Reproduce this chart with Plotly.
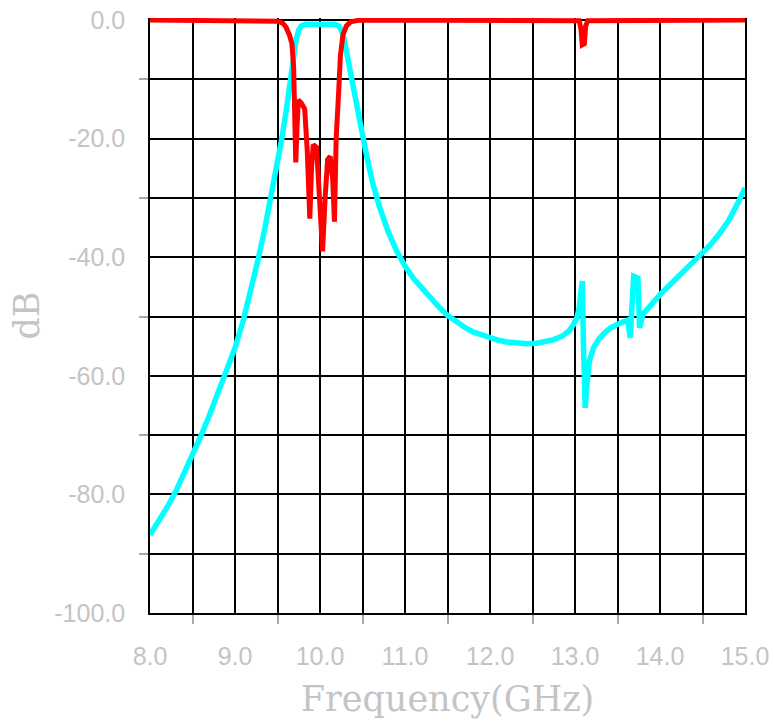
import plotly.graph_objects as go

# S21 (cyan) – frequency in GHz, magnitude in dB
s21_freq = [8.0, 8.1, 8.2, 8.3, 8.4, 8.5, 8.6, 8.7, 8.8, 8.9, 9.0, 9.1, 9.2, 9.27, 9.35,
            9.41, 9.48, 9.55, 9.60, 9.65, 9.69, 9.72, 9.75, 9.78, 9.83, 10.0, 10.17,
            10.22, 10.25, 10.28, 10.32, 10.36, 10.40, 10.45, 10.50, 10.55, 10.62, 10.70,
            10.80, 10.90, 11.0, 11.1, 11.2, 11.3, 11.4, 11.5, 11.6, 11.7, 11.8, 11.9,
            12.0, 12.1, 12.2, 12.3, 12.43, 12.55, 12.65, 12.75, 12.85, 12.93, 12.98,
            13.02, 13.05, 13.07, 13.085, 13.10, 13.12, 13.14, 13.17, 13.22, 13.28, 13.35,
            13.42, 13.5, 13.58, 13.62, 13.65, 13.69, 13.74, 13.76, 13.80, 13.9, 14.0,
            14.1, 14.2, 14.3, 14.4, 14.5, 14.6, 14.7, 14.8, 14.9, 15.0]
s21_db = [-86.8, -84.6, -82.2, -79.6, -76.6, -73.4, -70.1, -66.6, -63.0, -59.4, -55.3,
          -50.5, -45.0, -40.5, -35.2, -30.8, -25.5, -20.0, -15.5, -10.5, -6.0, -3.2,
          -1.7, -1.0, -0.7, -0.6, -0.7, -1.0, -1.7, -3.0, -5.8, -8.5, -11.5, -15.5,
          -19.3, -23.0, -27.5, -31.5, -35.6, -38.9, -41.5, -43.6, -45.3, -46.9, -48.4,
          -49.8, -50.9, -51.8, -52.6, -53.1, -53.6, -54.0, -54.3, -54.5, -54.6, -54.5,
          -54.3, -53.9, -53.3, -52.4, -51.4, -50.3, -48.5, -46.5, -44.0, -55.0, -65.4,
          -61.5, -57.5, -55.2, -53.8, -52.7, -51.9, -51.3, -50.8, -50.6, -53.6, -43.2,
          -43.5, -51.9, -49.6, -47.9, -46.3, -44.9, -43.5, -42.1, -40.8, -39.5, -37.8,
          -36.0, -34.0, -31.3, -28.3]

# S11 (red)
s11_freq = [8.0, 9.0, 9.4, 9.5, 9.56, 9.6, 9.64, 9.67, 9.69, 9.70, 9.715, 9.73, 9.745,
            9.78, 9.82, 9.85, 9.88, 9.90, 9.92, 9.96, 9.99, 10.03, 10.06, 10.09, 10.12,
            10.15, 10.17, 10.19, 10.22, 10.24, 10.27, 10.31, 10.36, 10.45, 10.6, 13.0,
            13.05, 13.07, 13.085, 13.11, 13.125, 13.15, 14.0, 15.0]
s11_db = [0.0, 0.0, -0.05, -0.2, -0.5, -1.2, -2.5, -4.0, -8.0, -15.0, -24.0, -18.0, -13.5,
          -14.0, -15.0, -22.0, -33.5, -25.0, -21.0, -21.5, -28.0, -39.0, -30.0, -23.5,
          -23.0, -27.0, -34.0, -20.0, -12.0, -6.0, -2.5, -1.0, -0.3, -0.05, 0.0, 0.0,
          -0.1, -1.5, -4.2, -4.0, -1.0, -0.1, 0.0, 0.0]

x_label_vals = [8, 9, 10, 11, 12, 13, 14, 15]
x_label_text = ["8.0", "9.0", "10.0", "11.0", "12.0", "13.0", "14.0", "15.0"]
x_minor_vals = [8.5, 9.5, 10.5, 11.5, 12.5, 13.5, 14.5]
y_label_vals = [0, -20, -40, -60, -80, -100]
y_label_text = ["0.0", "-20.0", "-40.0", "-60.0", "-80.0", "-100.0"]
y_minor_vals = [-10, -30, -50, -70, -90]

GRAY = "#c4c4c4"
TICKFONT = dict(family="Liberation Sans", size=25, color=GRAY)
TITLEFONT = dict(family="DejaVu Serif", size=35, color=GRAY)

fig = go.Figure()
fig.add_trace(go.Scatter(x=s21_freq, y=s21_db, mode="lines",
                         line=dict(color="#00ffff", width=5.5), name="S21"))
fig.add_trace(go.Scatter(x=s11_freq, y=s11_db, mode="lines",
                         line=dict(color="#ff0000", width=5), name="S11"))

fig.update_layout(
    width=774, height=724,
    margin=dict(l=150, r=29, t=18, b=111),
    paper_bgcolor="white", plot_bgcolor="white",
    showlegend=False,
)
fig.update_xaxes(
    range=[8, 15], automargin=False,
    tickvals=x_label_vals, ticktext=x_label_text,
    ticks="", tickfont=TICKFONT, ticklabelstandoff=20,
    showgrid=True, gridcolor="black", gridwidth=1.6,
    minor=dict(tickvals=x_minor_vals, ticks="outside", ticklen=9, tickcolor="#a8a8a8",
               tickwidth=1.5, showgrid=True, gridcolor="black", gridwidth=1.6),
    showline=True, linecolor="black", linewidth=1.6, mirror=False,
    zeroline=False,
    title=dict(text="Frequency(GHz)", font=TITLEFONT, standoff=18),
)
fig.update_yaxes(
    range=[-100, 0.35], automargin=False,
    tickvals=y_label_vals, ticktext=y_label_text,
    ticks="", tickfont=TICKFONT, ticklabelstandoff=18,
    showgrid=True, gridcolor="black", gridwidth=1.6,
    minor=dict(tickvals=y_minor_vals, ticks="outside", ticklen=9, tickcolor="#a8a8a8",
               tickwidth=1.5, showgrid=True, gridcolor="black", gridwidth=1.6),
    showline=True, linecolor="black", linewidth=1.6, mirror=True,
    zeroline=False,
    title=dict(text="dB", font=TITLEFONT, standoff=4),
)

fig.write_html("out.html", config={"displayModeBar": False},
               post_script="document.body.style.margin='0px';")
